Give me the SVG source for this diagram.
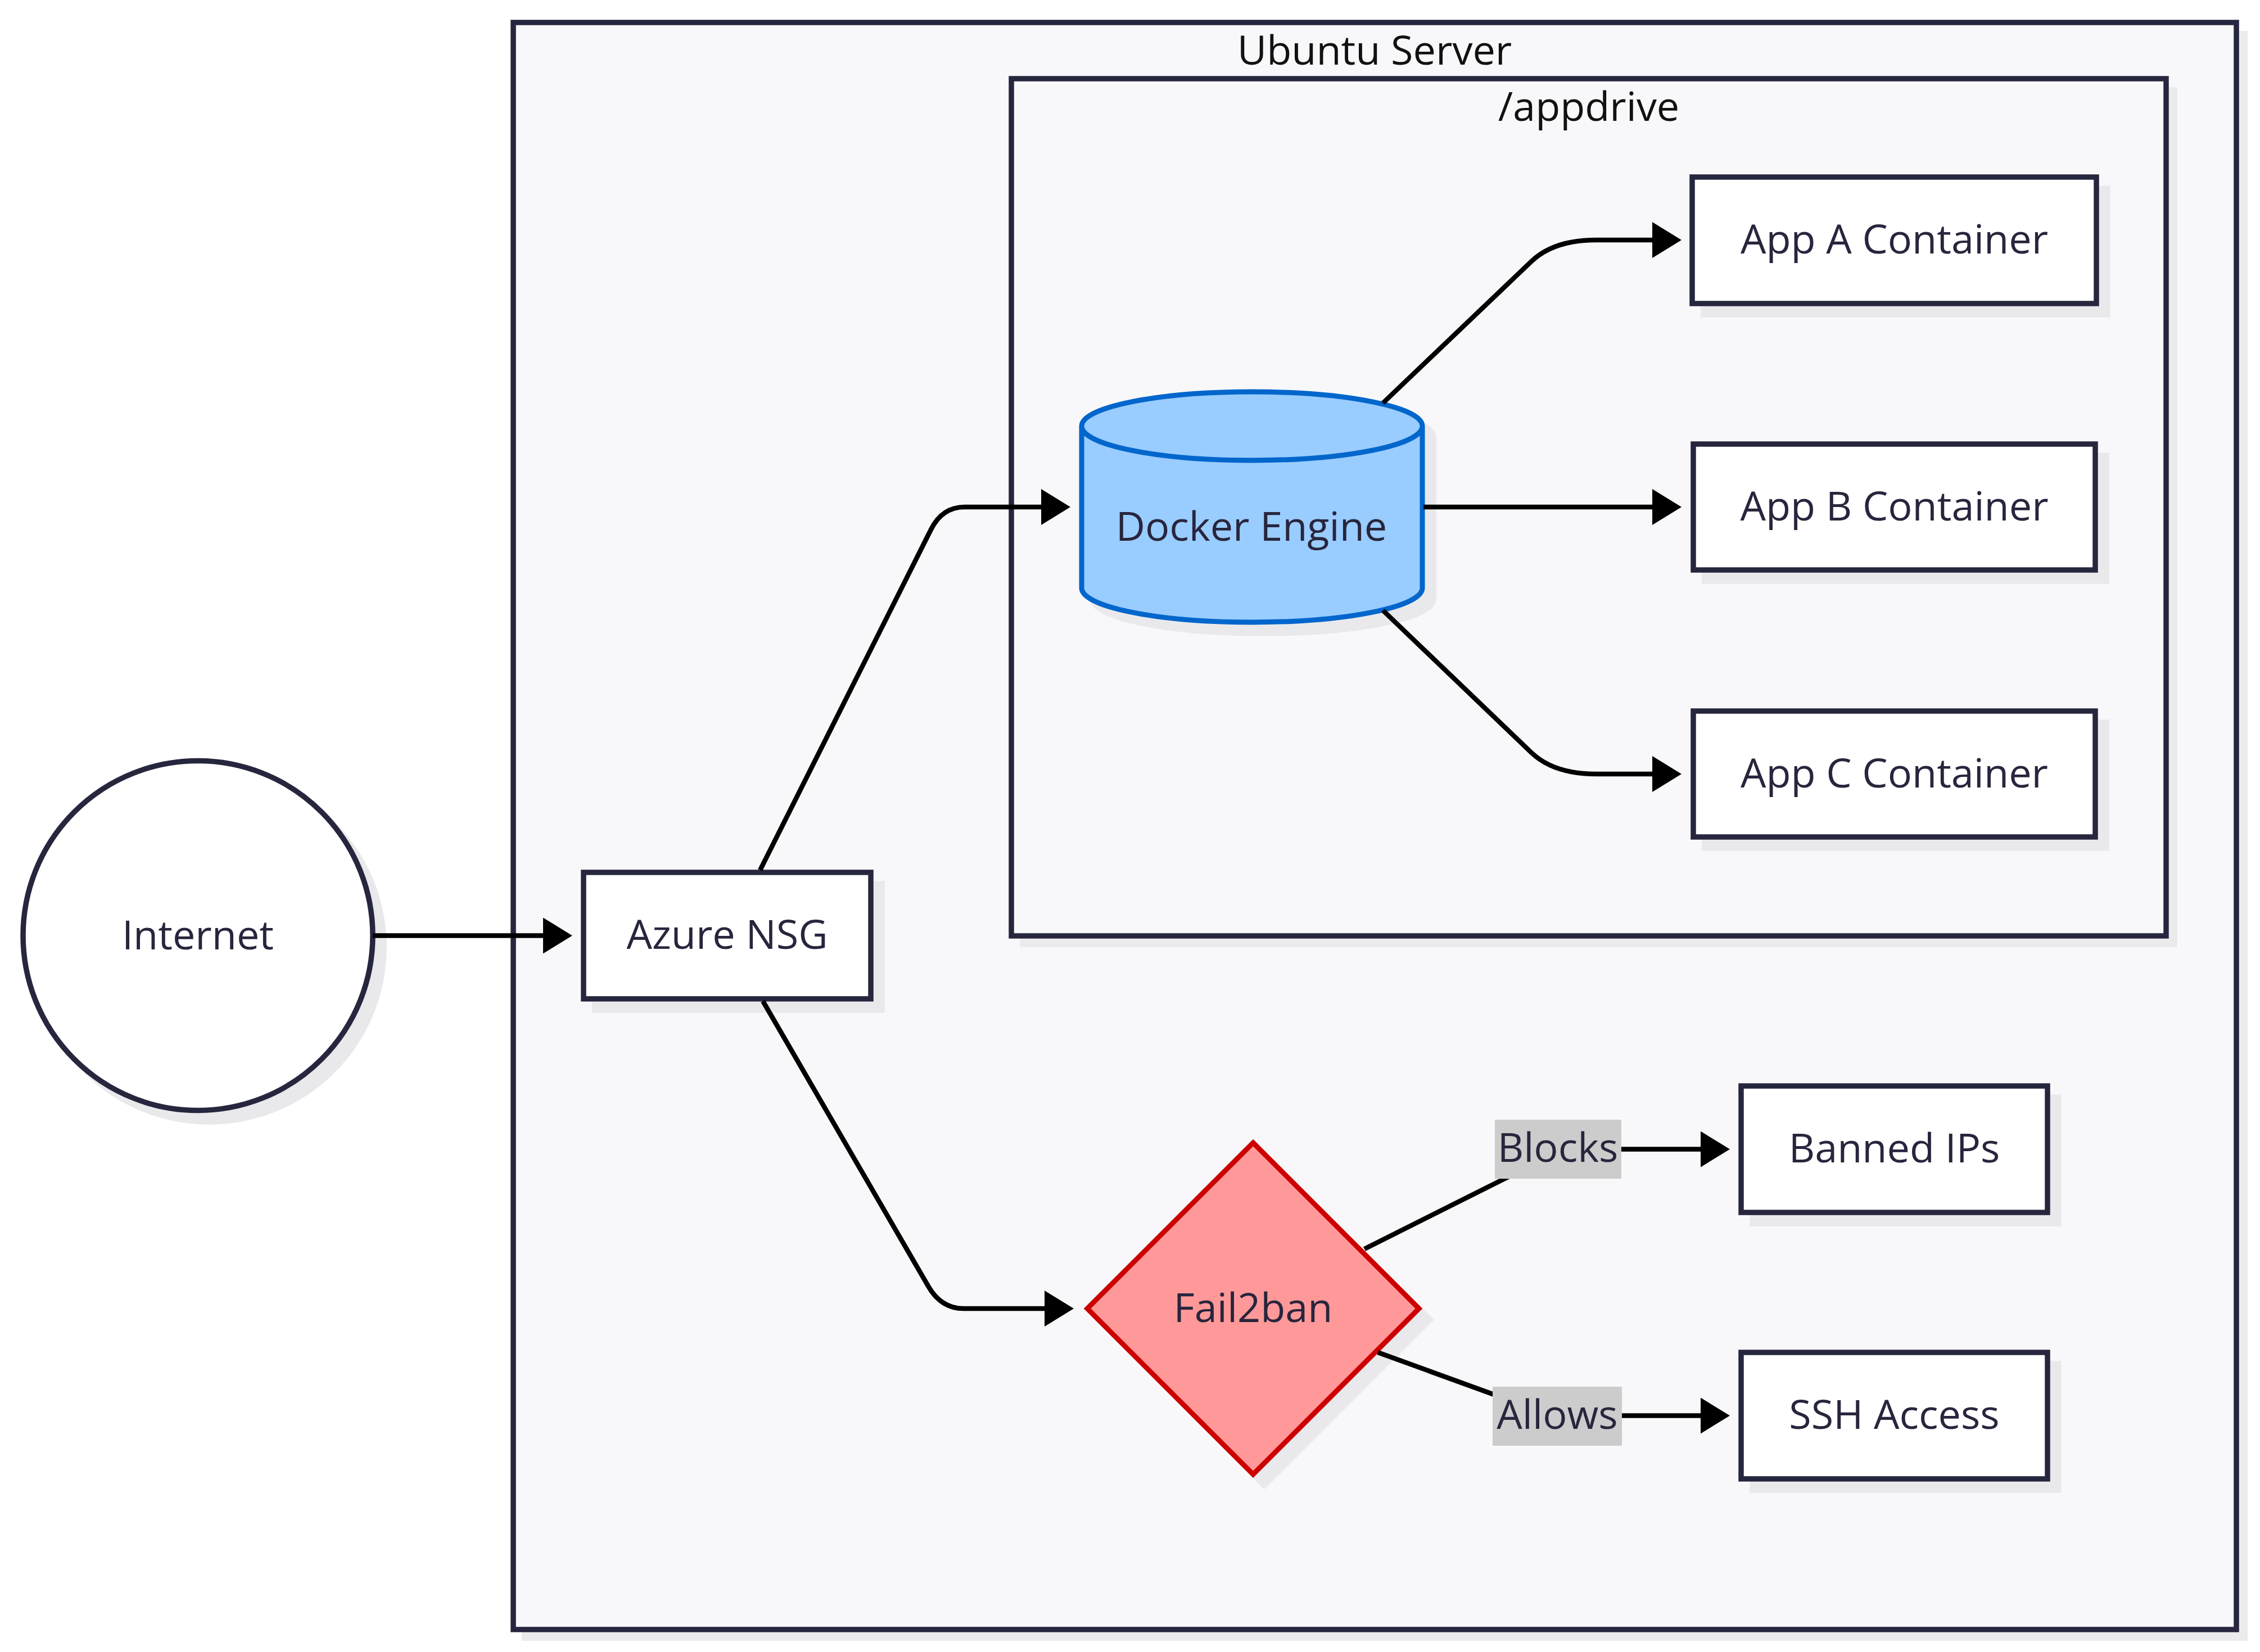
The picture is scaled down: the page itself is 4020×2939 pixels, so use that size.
<svg xmlns="http://www.w3.org/2000/svg" width="4020" height="2939" viewBox="0 0 4020 2939">
  <defs>
    <style>
      text { font-family: "Open Sans", "Noto Sans", "Liberation Sans", sans-serif; font-size: 72px; text-anchor: middle; }
      .cluster { fill: #f8f8fa; stroke: #26263e; stroke-width: 9.5; }
      .cluster-shadow { fill: #ebebee; }
      .cluster-title { fill: #111111; }
      .shadow { fill: #e9e9ec; stroke: #e9e9ec; stroke-width: 9.5; }
      .box { fill: #ffffff; stroke: #26263e; stroke-width: 9.5; }
      .label { fill: #28253d; }
      .engine { fill: #99ccff; stroke: #0066cc; stroke-width: 9; }
      .guard { fill: #ff9999; stroke: #cc0000; stroke-width: 9; }
      .edge { fill: none; stroke: #000000; stroke-width: 8.5; }
      .edge-label-bg { fill: #cccccc; }
    </style>
    <marker id="arrow" viewBox="0 0 52 64" refX="0" refY="32" markerWidth="52" markerHeight="64" markerUnits="userSpaceOnUse" orient="auto">
      <path d="M0,0 L52,32 L0,64 z" fill="#000000"/>
    </marker>
  </defs>

  <rect x="0" y="0" width="4020" height="2939" fill="#ffffff"/>

  <!-- Ubuntu Server cluster -->
  <g id="cluster-ubuntu">
    <rect class="cluster-shadow" x="928" y="55" width="3070" height="2864"/>
    <rect class="cluster" x="913" y="40" width="3065" height="2859"/>
    <text class="cluster-title" x="2445" y="115">Ubuntu Server</text>
  </g>

  <!-- /appdrive cluster -->
  <g id="cluster-appdrive">
    <rect class="cluster-shadow" x="1814" y="155" width="2059" height="1530"/>
    <rect class="cluster" x="1799" y="140" width="2054" height="1525"/>
    <text class="cluster-title" x="2826" y="215">/appdrive</text>
  </g>

  <!-- Nodes -->
  <g id="node-internet">
    <circle class="shadow" cx="372" cy="1685" r="311"/>
    <circle class="box" cx="352" cy="1664.5" r="311"/>
    <text class="label" x="352" y="1689">Internet</text>
  </g>

  <g id="node-azure-nsg">
    <rect class="shadow" x="1058" y="1572" width="511" height="225"/>
    <rect class="box" x="1038" y="1552" width="511" height="225"/>
    <text class="label" x="1293.5" y="1688">Azure NSG</text>
  </g>

  <g id="node-docker-engine">
    <path class="shadow" d="M1944,778 a303,61 0 0 0 606,0 a303,61 0 0 0 -606,0 l0,288 a303,61 0 0 0 606,0 l0,-288" stroke-width="0"/>
    <path class="engine" d="M1924,758 a303,61 0 0 0 606,0 a303,61 0 0 0 -606,0 l0,288 a303,61 0 0 0 606,0 l0,-288"/>
    <text class="label" x="2226" y="962">Docker Engine</text>
  </g>

  <g id="node-app-a">
    <rect class="shadow" x="3030" y="335" width="719" height="225"/>
    <rect class="box" x="3010" y="315" width="719" height="225"/>
    <text class="label" x="3369.5" y="451">App A Container</text>
  </g>

  <g id="node-app-b">
    <rect class="shadow" x="3032" y="810" width="715" height="224"/>
    <rect class="box" x="3012" y="790" width="715" height="224"/>
    <text class="label" x="3369.5" y="926">App B Container</text>
  </g>

  <g id="node-app-c">
    <rect class="shadow" x="3032" y="1285" width="715" height="224"/>
    <rect class="box" x="3012" y="1265" width="715" height="224"/>
    <text class="label" x="3369.5" y="1401">App C Container</text>
  </g>

  <g id="node-fail2ban">
    <polygon class="shadow" points="2249,2053 2544,2348 2249,2643 1954,2348" stroke-width="0"/>
    <polygon class="guard" points="2229,2033 2524,2328 2229,2623 1934,2328"/>
    <text class="label" x="2229" y="2352">Fail2ban</text>
  </g>

  <g id="node-banned-ips">
    <rect class="shadow" x="3117" y="1952" width="545" height="225"/>
    <rect class="box" x="3097" y="1932" width="545" height="225"/>
    <text class="label" x="3369.5" y="2068">Banned IPs</text>
  </g>

  <g id="node-ssh-access">
    <rect class="shadow" x="3117" y="2426" width="545" height="225"/>
    <rect class="box" x="3097" y="2406" width="545" height="225"/>
    <text class="label" x="3369.5" y="2542">SSH Access</text>
  </g>

  <!-- Connectors, drawn over the node shadows -->
  <g id="connectors">
    <path class="edge" d="M663,1664.5 L966,1664.5" marker-end="url(#arrow)"/>
    <path class="edge" d="M1352,1548 L1656,942 Q1676,902 1716,902 L1852,902" marker-end="url(#arrow)"/>
    <path class="edge" d="M1357,1781 L1651,2288 Q1674,2328 1714,2328 L1858,2328" marker-end="url(#arrow)"/>
    <path class="edge" d="M2460,717 L2724,465 Q2764,427 2839,427 L2939,427" marker-end="url(#arrow)"/>
    <path class="edge" d="M2532,902 L2939,902" marker-end="url(#arrow)"/>
    <path class="edge" d="M2460,1086 L2724,1339 Q2764,1377 2839,1377 L2939,1377" marker-end="url(#arrow)"/>
    <path class="edge" d="M2427,2222 L2690,2090 Q2730,2044.5 2780,2044.5 L3025,2044.5" marker-end="url(#arrow)"/>
    <path class="edge" d="M2451,2406 L2660,2482 Q2730,2518.5 2780,2518.5 L3025,2518.5" marker-end="url(#arrow)"/>
    <g id="label-blocks">
      <rect class="edge-label-bg" x="2659" y="1992" width="225" height="105"/>
      <text class="label" x="2771" y="2067">Blocks</text>
    </g>
    <g id="label-allows">
      <rect class="edge-label-bg" x="2655" y="2467" width="230" height="105"/>
      <text class="label" x="2770" y="2542">Allows</text>
    </g>
  </g>
</svg>
